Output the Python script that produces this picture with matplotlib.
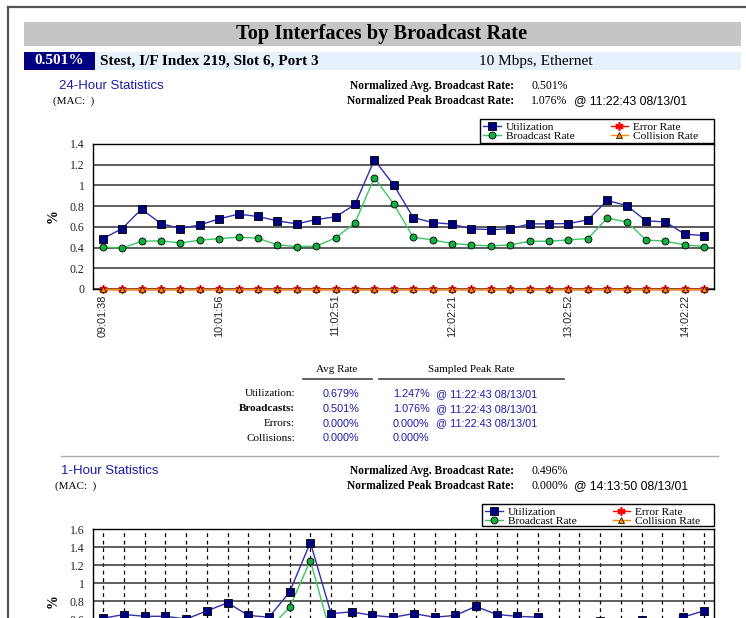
import numpy as np
import matplotlib
matplotlib.use('Agg')
import matplotlib.pyplot as plt
from matplotlib.patches import Rectangle
from matplotlib.lines import Line2D

util_24h = [0.484, 0.584, 0.771, 0.632, 0.584, 0.619, 0.677, 0.723, 0.700, 0.658,
            0.629, 0.671, 0.697, 0.816, 1.247, 1.003, 0.690, 0.642, 0.626, 0.581,
            0.574, 0.581, 0.629, 0.629, 0.632, 0.668, 0.855, 0.806, 0.658, 0.648,
            0.529, 0.516]
bcast_24h = [0.406, 0.394, 0.461, 0.465, 0.445, 0.471, 0.487, 0.500, 0.490, 0.426,
             0.410, 0.413, 0.494, 0.639, 1.076, 0.819, 0.500, 0.474, 0.439, 0.426,
             0.416, 0.426, 0.461, 0.461, 0.474, 0.487, 0.684, 0.648, 0.474, 0.461,
             0.426, 0.410]
err_24h = [0.0] * 32
coll_24h = [0.0] * 32
ticks_24h = ['09:01:38', '10:01:56', '11:02:51', '12:02:21', '13:02:52', '14:02:22']

util_1h = [0.61, 0.65, 0.63, 0.63, 0.60, 0.69, 0.78, 0.64, 0.62, 0.90,
           1.45, 0.66, 0.68, 0.64, 0.62, 0.66, 0.62, 0.64, 0.74, 0.65,
           0.63, 0.62, 0.57, 0.56, 0.58, 0.57, 0.59, 0.56, 0.62, 0.69]
bcast_1h = [0.45, 0.47, 0.46, 0.46, 0.44, 0.50, 0.55, 0.46, 0.49, 0.73,
            1.25, 0.42, 0.48, 0.46, 0.45, 0.47, 0.45, 0.46, 0.52, 0.47,
            0.45, 0.44, 0.41, 0.40, 0.42, 0.41, 0.42, 0.40, 0.44, 0.50]
err_1h = [0.0] * 30
coll_1h = [0.0] * 30

legend_labels = ['Utilization', 'Broadcast Rate', 'Error Rate', 'Collision Rate']

table_rows = ['Utilization:', 'Broadcasts:', 'Errors:', 'Collisions:']
table_avg = ['0.679%', '0.501%', '0.000%', '0.000%']
table_peak = ['1.247%', '1.076%', '0.000%', '0.000%']
table_peak_time = ['@ 11:22:43 08/13/01', '@ 11:22:43 08/13/01', '@ 11:22:43 08/13/01', '']

W, H = 746, 618
SERIF = 'Liberation Serif'
SANS = 'Liberation Sans'
AZUL = '#1c1ca8'

fig = plt.figure(figsize=(W / 100, H / 100), dpi=100)


def txt(x, y, s, **kw):
    kw.setdefault('va', 'center')
    kw.setdefault('family', SERIF)
    kw.setdefault('size', 8)
    fig.text(x / W, 1 - y / H, s, **kw)


def rect(x1, y1, x2, y2, cor, borda=None, z=1):
    if borda is None:
        r = Rectangle((x1 / W, 1 - y2 / H), (x2 - x1) / W, (y2 - y1) / H,
                      transform=fig.transFigure, color=cor, lw=0, zorder=z)
    else:
        r = Rectangle((x1 / W, 1 - y2 / H), (x2 - x1) / W, (y2 - y1) / H,
                      transform=fig.transFigure, facecolor=cor, edgecolor=borda, lw=1, zorder=z)
    fig.add_artist(r)


def linha(x1, y1, x2, y2, cor, lw=1.0):
    fig.add_artist(Line2D([x1 / W, x2 / W], [1 - y1 / H, 1 - y2 / H],
                          transform=fig.transFigure, color=cor, lw=lw))


def grafico(top, bottom, util, bcast, err, coll, ymax, labels, vgrid, leg_box):
    ax = fig.add_axes([93 / W, 1 - bottom / H, 621 / W, (bottom - top) / H])
    x = np.arange(len(util))
    h1, = ax.plot(x, util, color='#3030b0', lw=1, marker='s', ms=5.5,
                  mfc='#000080', mec='black', mew=0.6, zorder=5)
    h2, = ax.plot(x, bcast, color='#3cc860', lw=1, marker='o', ms=5,
                  mfc='#10b040', mec='black', mew=0.6, zorder=4)
    h3, = ax.plot(x, err, color='red', lw=1, marker=(6, 2, 0), ms=6,
                  mec='red', mew=1.2, clip_on=False, zorder=6)
    h4, = ax.plot(x, coll, color='#ff8c00', lw=1, marker='^', ms=4.5,
                  mfc='#ff8c00', mec='black', mew=0.5, clip_on=False, zorder=7)
    ax.set_xlim(-0.5, len(util) - 0.5)
    ax.set_ylim(0, ymax)
    yt = np.arange(0, ymax + 0.01, 0.2)
    ax.set_yticks(yt)
    ax.set_yticklabels([f'{v:g}' for v in yt], family=SERIF, size=8.5, color='#222222')
    ax.yaxis.grid(True, color='#333333', lw=1.1)
    if vgrid:
        ax.set_xticks(x)
        ax.set_xticklabels([])
        ax.xaxis.grid(True, color='black', lw=0.9, ls=(0, (3, 3)))
    else:
        ax.set_xticks(np.arange(0, len(util), 6))
        ax.set_xticklabels(labels, rotation=90, family=SANS, size=7.8, color='#222222')
    ax.tick_params(axis='y', length=0, pad=6)
    ax.tick_params(axis='x', length=0, pad=4)
    ax.set_axisbelow(True)
    for s in ax.spines.values():
        s.set_color('black')
        s.set_linewidth(1)
    ax.set_ylabel('%', family=SERIF, weight='bold', size=10, labelpad=7)

    # caixa da legenda (desenhada por baixo da legenda)
    x0, y0, x1, y1 = leg_box
    rect(x0, y0, x1, y1, 'white', borda='black', z=0.5)
    leg = fig.legend([h1, h2, h3, h4], legend_labels, ncol=2, loc='upper left',
                     bbox_to_anchor=(x0 / W, 1 - (y0 - 0.5) / H), bbox_transform=fig.transFigure,
                     borderaxespad=0, frameon=False, borderpad=0.3, labelspacing=-0.08,
                     handlelength=1.5, handletextpad=0.45, columnspacing=3.2,
                     prop={'family': SERIF, 'size': 8.2})
    leg.set_zorder(10)
    return ax


# moldura da pagina
linha(8, 7, 746, 7, '#555555', 1.6)
linha(8, 7, 8, 618, '#555555', 1.6)

# cabecalho
rect(24, 22, 741, 46, '#c6c5c6')
txt(382, 34, 'Top Interfaces by Broadcast Rate', ha='center', weight='bold', size=14.7)
rect(95, 52, 741, 70, '#e6f1fc')
rect(24, 52, 95, 70, '#000080')
txt(59.5, 61, '0.501%', ha='center', weight='bold', size=11, color='white')
txt(100, 61, 'Stest, I/F Index 219, Slot 6, Port 3', weight='bold', size=11)
txt(479, 61, '10 Mbps, Ethernet', size=11)

# 24 horas
txt(59, 86, '24-Hour Statistics', family=SANS, size=9.5, color=AZUL)
txt(53, 101, '(MAC:  )', size=8)
txt(514, 86, 'Normalized Avg. Broadcast Rate:', ha='right', weight='bold', size=8.3)
txt(531, 86, '0.501%', size=8.5)
txt(514, 101, 'Normalized Peak Broadcast Rate:', ha='right', weight='bold', size=8.3)
txt(531, 101, '1.076%', size=8.5)
txt(574, 101, '@ 11:22:43 08/13/01', family=SANS, size=8.8)

grafico(144, 289, util_24h, bcast_24h, err_24h, coll_24h, 1.4, ticks_24h, False,
        (480, 119, 714, 142.5))

# tabela
txt(337, 370, 'Avg Rate', ha='center', size=8)
linha(303, 379, 372, 379, '#444444', 1.2)
txt(471, 370, 'Sampled Peak Rate', ha='center', size=8)
linha(379, 379, 564, 379, '#444444', 1.2)
for i, nome in enumerate(table_rows):
    y = 394 + i * 14.8
    txt(295, y, nome, ha='right', size=8, weight='bold' if nome == 'Broadcasts:' else 'normal')
    txt(323, y, table_avg[i], family=SANS, size=7.8, color=AZUL)
    txt(393, y, table_peak[i], family=SANS, size=7.8, color=AZUL)
    txt(436, y, table_peak_time[i], family=SANS, size=7.8, color=AZUL)

linha(61, 456, 718, 456, '#aaaaaa', 1.0)

# 1 hora
txt(61, 471, '1-Hour Statistics', family=SANS, size=9.5, color=AZUL)
txt(55, 486, '(MAC:  )', size=8)
txt(514, 471, 'Normalized Avg. Broadcast Rate:', ha='right', weight='bold', size=8.3)
txt(531, 471, '0.496%', size=8.5)
txt(514, 486, 'Normalized Peak Broadcast Rate:', ha='right', weight='bold', size=8.3)
txt(531, 486, '0.000%', size=8.5)
txt(574, 486, '@ 14:13:50 08/13/01', family=SANS, size=8.8)

grafico(529, 673, util_1h, bcast_1h, err_1h, coll_1h, 1.6, [], True,
        (482, 504, 714, 526))

fig.savefig('out.png', dpi=100)
